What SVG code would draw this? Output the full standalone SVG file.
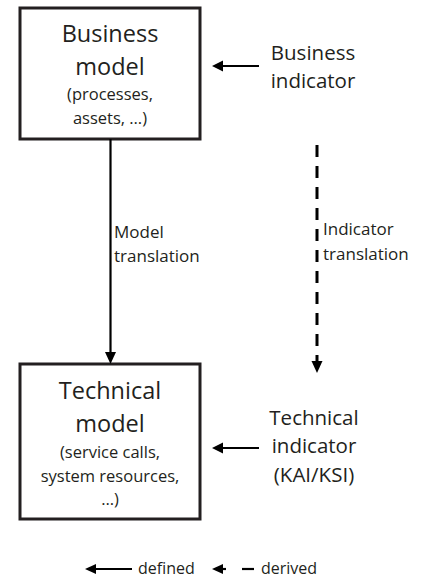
<svg xmlns="http://www.w3.org/2000/svg" width="421" height="579" viewBox="0 0 421 579">
<style>
text{font-family:"Open Sans","Noto Sans","DejaVu Sans",sans-serif;fill:#231f20}
.title{font-size:23.5px;text-anchor:middle}
.sub{font-size:16.5px;text-anchor:middle}
.side{font-size:20.5px;text-anchor:middle}
.lab{font-size:17px}
.leg{font-size:16px}
.box{fill:#fff;stroke:#231f20;stroke-width:3}
.ln{stroke:#000;stroke-width:2.2;fill:none}
.dash{stroke:#000;stroke-width:3;fill:none;stroke-dasharray:12 9}
.head{fill:#000}
</style>
<rect width="421" height="579" fill="#fff"/>
<g id="business-model">
<rect class="box" x="20" y="8" width="180" height="131"/>
<text class="title" x="110" y="42">Business</text>
<text class="title" x="110" y="75">model</text>
<text class="sub" x="110" y="100">(processes,</text>
<text class="sub" x="110" y="124">assets, …)</text>
</g>
<g id="business-indicator">
<text class="side" x="313" y="60">Business</text>
<text class="side" x="313" y="88">indicator</text>
</g>
<g id="technical-model">
<rect class="box" x="20" y="364" width="180" height="155"/>
<text class="title" x="110" y="399">Technical</text>
<text class="title" x="110" y="431.5">model</text>
<text class="sub" x="110" y="458">(service calls,</text>
<text class="sub" x="110" y="482">system resources,</text>
<text class="sub" x="110" y="505">…)</text>
</g>
<g id="technical-indicator">
<text class="side" x="314" y="425">Technical</text>
<text class="side" x="314" y="453">indicator</text>
<text class="side" x="314" y="482">(KAI/KSI)</text>
</g>
<g id="connectors">
<line class="ln" x1="259" y1="66" x2="221" y2="66"/>
<polygon class="head" points="212,66 223,60.5 223,71.5"/>
<line class="ln" x1="259" y1="448" x2="221" y2="448"/>
<polygon class="head" points="212,448 223,442.5 223,453.5"/>
<line class="ln" x1="110.5" y1="139" x2="110.5" y2="354"/>
<polygon class="head" points="110.5,364 105,352 116,352"/>
<text class="lab" x="114" y="238">Model</text>
<text class="lab" x="114" y="262">translation</text>
<line class="dash" x1="317" y1="145" x2="317" y2="363"/>
<polygon class="head" points="317,373 311.5,361 322.5,361"/>
<text class="lab" x="323" y="235">Indicator</text>
<text class="lab" x="323" y="260">translation</text>
</g>
<g id="legend">
<line class="ln" x1="132" y1="569" x2="93" y2="569"/>
<polygon class="head" points="85,569 96,564 96,574"/>
<text class="leg" x="138" y="574">defined</text>
<line class="ln" x1="226" y1="569" x2="220" y2="569"/>
<polygon class="head" points="212,569 223,564 223,574"/>
<line class="ln" x1="242" y1="569" x2="254" y2="569"/>
<text class="leg" x="261" y="574">derived</text>
</g>
</svg>
